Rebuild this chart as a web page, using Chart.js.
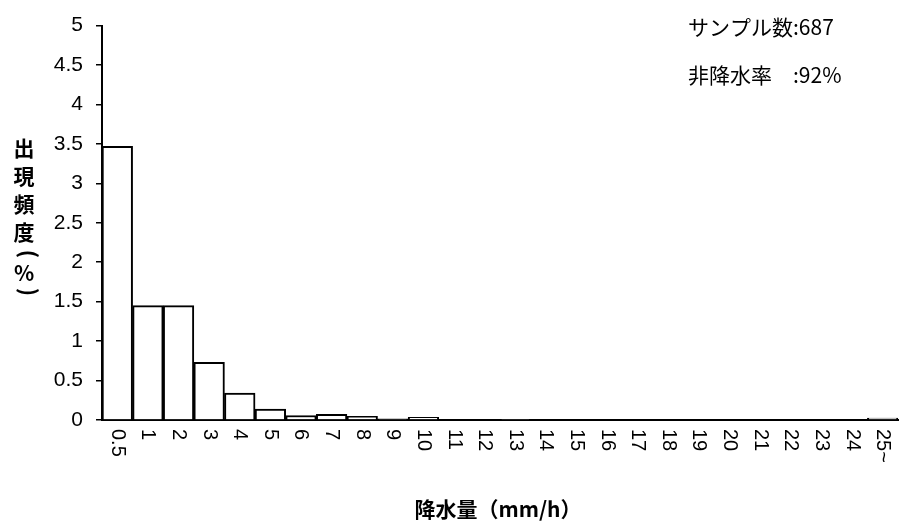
<!DOCTYPE html>
<html>
<head>
<meta charset="utf-8">
<script src="https://cdn.jsdelivr.net/npm/chart.js@4/dist/chart.umd.min.js"></script>
<style>
  body { margin: 0; background: #fff; }
  #wrap { width: 901px; height: 532px; }
</style>
</head>
<body>
<div id="wrap"><canvas id="rainChart" width="901" height="532"></canvas></div>
<script>
// 降水量の階級 (mm/h)
const categories = ['0.5', '1', '2', '3', '4', '5', '6', '7', '8', '9', '10', '11', '12', '13',
  '14', '15', '16', '17', '18', '19', '20', '21', '22', '23', '24', '25~'];
// 出現頻度 (%)
const frequency = [3.47, 1.45, 1.45, 0.73, 0.34, 0.14, 0.055, 0.073, 0.045, 0.015, 0.035, 0, 0, 0.01,
  0, 0, 0, 0, 0, 0, 0, 0, 0, 0, 0, 0.025];
const yTickLabels = ['0', '0.5', '1', '1.5', '2', '2.5', '3', '3.5', '4', '4.5', '5'];
const yTitleChars = ['出', '現', '頻', '度', '(', '%', ')'];
const xTitle = '降水量（mm/h）';
const noteLines = ['サンプル数:687', '非降水率　:92%'];

const jpFont = '"Noto Sans CJK JP", sans-serif';
const numFont = '"Liberation Sans", Arial, sans-serif';

// x軸ラベル(縦書き)、軸タイトル、注記
const textPlugin = {
  id: 'textPlugin',
  afterDraw(chart) {
    const ctx = chart.ctx;
    const xs = chart.scales.x;
    const area = chart.chartArea;
    ctx.save();
    ctx.fillStyle = '#000';

    // x tick labels, rotated clockwise
    ctx.font = '20px ' + numFont;
    ctx.textAlign = 'left';
    ctx.textBaseline = 'middle';
    categories.forEach((c, i) => {
      const x = xs.getPixelForTick(i);
      ctx.save();
      ctx.translate(x, area.bottom + 9);
      ctx.rotate(Math.PI / 2);
      ctx.fillText(c, 0, 0);
      ctx.restore();
    });

    // y title, vertical (brackets turned)
    ctx.font = 'bold 21px ' + jpFont;
    ctx.textAlign = 'center';
    const yPos = [148, 176, 204, 232, 254, 273, 292];
    yTitleChars.forEach((ch, i) => {
      if (ch === '(' || ch === ')') {
        ctx.save();
        ctx.translate(29, yPos[i]);
        ctx.rotate(Math.PI / 2);
        ctx.font = 'bold 22px ' + jpFont;
        ctx.fillText(ch, 0, 0);
        ctx.restore();
      } else {
        ctx.fillText(ch, 24, yPos[i]);
      }
    });

    // x title
    ctx.font = 'bold 21px ' + jpFont;
    ctx.fillText(xTitle, 498, 509);

    // note
    ctx.font = '21px ' + jpFont;
    ctx.textAlign = 'left';
    ctx.fillText(noteLines[0], 688, 27);
    ctx.fillText(noteLines[1], 688, 75);
    ctx.restore();
  }
};

const ctx = document.getElementById('rainChart');
const rainChart = new Chart(ctx, {
  type: 'bar',
  data: {
    labels: categories,
    datasets: [{
      data: frequency,
      backgroundColor: '#ffffff',
      borderColor: '#000000',
      borderWidth: 2,
      categoryPercentage: 1.0,
      barPercentage: 1.0,
    }],
  },
  options: {
    responsive: false,
    animation: false,
    layout: { padding: { left: 0, right: 3, top: 18, bottom: 0 } },
    plugins: {
      legend: { display: false },
      tooltip: { enabled: false },
    },
    scales: {
      x: {
        grid: { display: false },
        border: { display: true, color: '#000', width: 2 },
        ticks: { display: false },
        afterFit(scale) { scale.height = 112; },
      },
      y: {
        min: 0,
        max: 5,
        afterBuildTicks(scale) {
          scale.ticks = yTickLabels.map(v => ({ value: parseFloat(v) }));
        },
        ticks: {
          color: '#000',
          font: { family: numFont, size: 21 },
          padding: 13,
          callback: (v, i) => yTickLabels[i],
        },
        grid: { display: true, drawOnChartArea: false, drawTicks: true, tickLength: 6, color: '#000', lineWidth: 1.5 },
        border: { display: true, color: '#000', width: 2 },
        afterFit(scale) { scale.width = 102; },
      }
    }
  },
  plugins: [textPlugin]
});
</script>
</body>
</html>
